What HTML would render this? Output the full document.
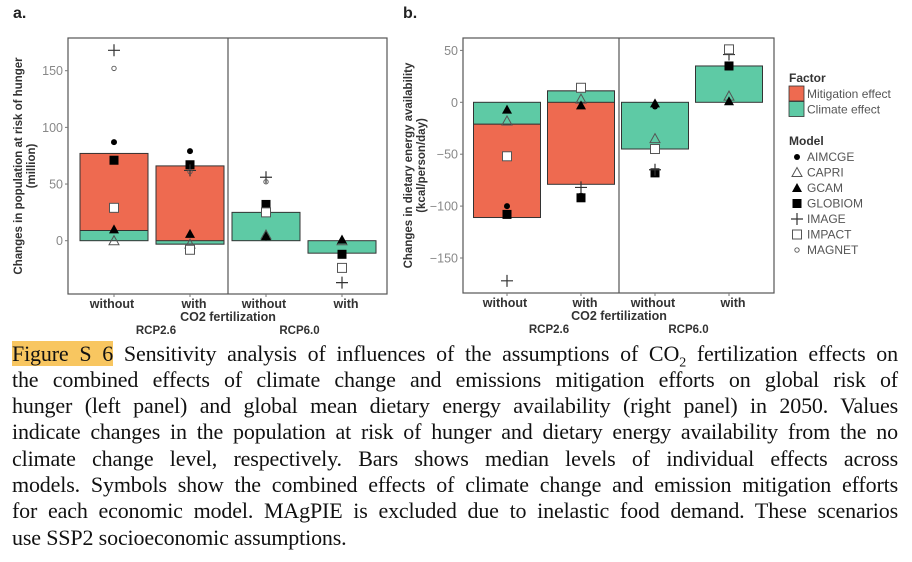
<!DOCTYPE html>
<html><head><meta charset="utf-8"><style>
body{margin:0;width:912px;height:562px;background:#fff;overflow:hidden;position:relative}
svg{position:absolute;left:0;top:0}
.cap{position:absolute;left:12px;width:886px;font-family:"Liberation Serif",serif;font-size:22px;letter-spacing:-0.15px;color:#111;white-space:nowrap;text-align:justify;text-align-last:justify;line-height:24px}
.hl{background:#f8c660}
</style></head><body>
<svg id="chart" width="912" height="340" font-family="Liberation Sans, sans-serif"></svg>
<div>
<div class="cap" style="top:342px"><span class="hl">Figure&nbsp;S&nbsp;6</span> Sensitivity analysis of influences of the assumptions of CO<sub style="font-size:14px;line-height:0">2</sub> fertilization effects on</div>
<div class="cap" style="top:368px">the combined effects of climate change and emissions mitigation efforts on global risk of</div>
<div class="cap" style="top:394px">hunger (left panel) and global mean dietary energy availability (right panel) in 2050. Values</div>
<div class="cap" style="top:420px">indicate changes in the population at risk of hunger and dietary energy availability from the no</div>
<div class="cap" style="top:447px">climate change level, respectively. Bars shows median levels of individual effects across</div>
<div class="cap" style="top:473px">models. Symbols show the combined effects of climate change and emission mitigation efforts</div>
<div class="cap" style="top:499px">for each economic model. MAgPIE is excluded due to inelastic food demand. These scenarios</div>
<div class="cap" style="top:526px;text-align-last:left">use SSP2 socioeconomic assumptions.</div>
</div>
<script>
const categories=["without","with","without","with"];
// panel a
const aClimate=[9,-3,25,-11];
const aMitigation=[68,69,0,0];
const aModels=["AIMCGE","CAPRI","GCAM","GLOBIOM","IMAGE","IMPACT","MAGNET"];
const aPts=[
 [87,0,10,71,168,29,152],
 [79,-3,6,67,62,-8,61],
 [3,5,4,32,56,25,52],
 [null,0,1,-12,-37,-24,null]];
const aTicks=[0,50,100,150];
// panel b
const bClimate=[-21,11,-45,35];
const bMitigation=[-90,-90,0,0];
const bPts=[
 [-100,-18,-7,-108,-172,-52,null],
 [-90,3,-3,-92,-82,14,null],
 [-4,-35,-1,-68,-65,-45,null],
 [null,6,1,35,46,51,null]];
const bTicks=[-150,-100,-50,0,50];
const RED="#ee6a50",GRN="#5ecaa5";
const svg=document.getElementById('chart');
const NS="http://www.w3.org/2000/svg";
function mk(tag,at,parent,txt){const e=document.createElementNS(NS,tag);for(const k in at)e.setAttribute(k,at[k]);if(txt!=null)e.textContent=txt;(parent||svg).appendChild(e);return e;}
function shape(g,name,cx,cy){
 let e;
 if(name==="AIMCGE")e=mk('circle',{cx,cy,r:3,fill:'#000'},g);
 else if(name==="MAGNET")e=mk('circle',{cx,cy,r:2.2,fill:'none',stroke:'#555','stroke-width':0.9},g);
 else if(name==="CAPRI")e=mk('path',{d:`M${cx-5},${cy+4}L${cx+5},${cy+4}L${cx},${cy-5}Z`,fill:'none',stroke:'#555','stroke-width':1},g);
 else if(name==="GCAM")e=mk('path',{d:`M${cx-5},${cy+4}L${cx+5},${cy+4}L${cx},${cy-5}Z`,fill:'#000'},g);
 else if(name==="GLOBIOM")e=mk('rect',{x:cx-4.5,y:cy-4.5,width:9,height:9,fill:'#000'},g);
 else if(name==="IMPACT")e=mk('rect',{x:cx-4.5,y:cy-4.5,width:9,height:9,fill:'#fff',stroke:'#555','stroke-width':1},g);
 else e=mk('path',{d:`M${cx-6},${cy}H${cx+6}M${cx},${cy-6}V${cy+6}`,stroke:'#333','stroke-width':1.2},g);
 
 
 return e;
}
function panel(o){
 const g=mk('g',{});
 
 
 const y=v=>o.y0-v*o.k;
 const x=i=>o.cx0+i*o.step;
 mk('text',{x:o.lx,y:18,'font-size':16,'font-weight':'bold',fill:'#222'},g,o.letter);
 for(let i=0;i<categories.length;i++){
  const hw=o.bw/2;
  const c=o.climate[i],m=o.mit[i];
  if(m){const r=mk('rect',{x:x(i)-hw,y:Math.min(y(c),y(c+m)),width:o.bw,height:Math.abs(m*o.k),fill:RED,stroke:'#333','stroke-width':1},g);}
  const r=mk('rect',{x:x(i)-hw,y:Math.min(y(0),y(c)),width:o.bw,height:Math.abs(c*o.k),fill:GRN,stroke:'#333','stroke-width':1},g);
 }
 o.pts.forEach((row,i)=>row.forEach((v,j)=>{if(v!=null)shape(g,aModels[j],x(i),y(v));}));
 mk('rect',{x:o.x1,y:38,width:o.x2-o.x1,height:o.yb-38,fill:'none',stroke:'#555','stroke-width':1.2},g);
 mk('line',{x1:o.sep,x2:o.sep,y1:38,y2:o.yb,stroke:'#555','stroke-width':1.2},g);
 o.ticks.forEach(t=>{
  mk('line',{x1:o.x1-3,x2:o.x1,y1:y(t),y2:y(t),stroke:'#777'},g);
  const tx=mk('text',{x:o.x1-5,y:y(t)+4.5,'font-size':12.5,fill:'#888','text-anchor':'end'},g,t<0?'\u2212'+(-t):t);
  
 });
 categories.forEach((c,i)=>{
  mk('line',{x1:x(i),x2:x(i),y1:o.yb,y2:o.yb+3,stroke:'#777'},g);
  const tx=mk('text',{x:x(i)+(i%2?4:-2),y:o.yb+14,'font-size':12.5,'font-weight':'bold',fill:'#333','text-anchor':'middle'},g,c);
  
 });
 mk('text',{x:o.sep,y:o.yb+27,'font-size':12.5,'font-weight':'bold',fill:'#333','text-anchor':'middle'},g,'CO2 fertilization');
 mk('text',{x:(o.x1+o.sep)/2+8,y:o.yb+40,'font-size':11.5,'font-weight':'bold',fill:'#333','text-anchor':'middle'},g,'RCP2.6');
 mk('text',{x:(o.sep+o.x2)/2-8,y:o.yb+40,'font-size':11.5,'font-weight':'bold',fill:'#333','text-anchor':'middle'},g,'RCP6.0');
 mk('text',{transform:`translate(${o.ytx},${(38+o.yb)/2}) rotate(-90)`,'font-size':11.5,'font-weight':'bold',fill:'#333','text-anchor':'middle'},g,o.ytitle1);
 mk('text',{transform:`translate(${o.ytx+13},${(38+o.yb)/2}) rotate(-90)`,'font-size':11.5,'font-weight':'bold',fill:'#333','text-anchor':'middle'},g,o.ytitle2);
}
panel({name:'panel-a-hunger',letter:'a.',lx:13,x1:68,x2:387,yb:294,sep:228,y0:240.7,k:170/150,cx0:114,step:76,bw:68,
 climate:aClimate,mit:aMitigation,pts:aPts,ticks:aTicks,ytx:22,
 ytitle1:'Changes in population at risk of hunger',ytitle2:'(million)'});
panel({name:'panel-b-energy',letter:'b.',lx:403,x1:463,x2:774,yb:293,sep:619,y0:102.3,k:155.7/150,cx0:507,step:74,bw:67,
 climate:bClimate,mit:bMitigation,pts:bPts,ticks:bTicks,ytx:412,
 ytitle1:'Changes in dietary energy availability',ytitle2:'(kcal/person/day)'});
// legend
const lg=mk('g',{});


mk('text',{x:789,y:82,'font-size':12,'font-weight':'bold',fill:'#333'},lg,'Factor');
[['Mitigation effect',RED],['Climate effect',GRN]].forEach((f,i)=>{
 const r=mk('rect',{x:789,y:86+i*15.5,width:15,height:15,fill:f[1],stroke:'#333','stroke-width':0.8},lg);
 
 mk('text',{x:807,y:98+i*15.5,'font-size':12,fill:'#555'},lg,f[0]);
});
mk('text',{x:789,y:145,'font-size':12,'font-weight':'bold',fill:'#333'},lg,'Model');
aModels.forEach((m,i)=>{
 shape(lg,m,797,157+i*15.5);
 mk('text',{x:807,y:161+i*15.5,'font-size':12,fill:'#555'},lg,m);
});
</script>
</body></html>
